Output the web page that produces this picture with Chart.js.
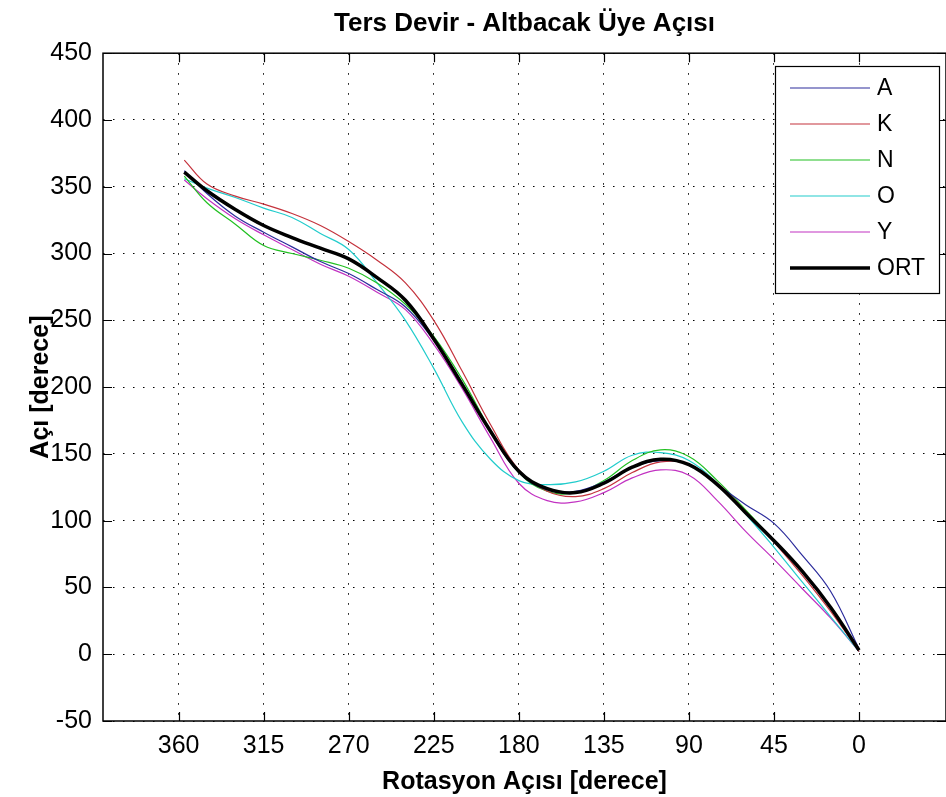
<!DOCTYPE html>
<html>
<head>
<meta charset="utf-8">
<script src="https://cdn.jsdelivr.net/npm/chart.js@4/dist/chart.umd.min.js"></script>
<style>
  html, body { margin: 0; padding: 0; background: #fff; }
  #wrap { width: 946px; height: 797px; }
</style>
</head>
<body>
<div id="wrap"><canvas id="grafik" width="946" height="797"></canvas></div>
<script>
// veriler
var rotasyon = [357, 345, 330, 315, 300, 285, 270, 255, 240, 225, 210, 195, 180, 165, 150, 135, 120, 105, 90, 75, 60, 45, 30, 15, 0];
var degerA   = [362, 345, 328, 316, 305, 294, 285, 273, 260, 235, 203, 166, 136, 123, 122, 129, 140, 145, 142, 127, 112, 98, 74, 47, 4];
var degerK   = [370, 352, 343, 337, 330, 321, 309, 295, 278, 250, 212, 172, 138, 122, 118, 124, 136, 144, 142, 128, 107, 84, 59, 32, 2];
var degerN   = [358, 338, 322, 306, 300, 295, 289, 278, 262, 238, 206, 168, 136, 122, 121, 130, 145, 153, 148, 130, 108, 85, 62, 35, 3];
var degerO   = [356, 349, 342, 334, 327, 315, 303, 278, 250, 214, 174, 146, 130, 127, 129, 137, 149, 151, 145, 128, 105, 80, 54, 28, 2];
var degerY   = [355, 341, 326, 314, 303, 292, 283, 271, 258, 232, 199, 162, 128, 115, 114, 121, 132, 138, 134, 115, 92, 71, 49, 27, 2];
var degerORT = [361, 347, 333, 321, 312, 304, 296, 282, 265, 236, 202, 167, 137, 124, 121, 128, 140, 146, 142, 127, 106, 85, 62, 35, 3];

var etiketler = ['A', 'K', 'N', 'O', 'Y', 'ORT'];
var renkler = ['#2c2c9c', '#c4323c', '#22c022', '#22cccc', '#c232c2', '#000000'];
var kalinlik = [1.2, 1.2, 1.2, 1.2, 1.2, 3.5];
var xTikler = [360, 315, 270, 225, 180, 135, 90, 45, 0];

var yaziTipi = "'Liberation Sans', Arial, sans-serif";

function noktalar(degerler) {
  return rotasyon.map(function(r, i) { return { x: r, y: degerler[i] }; });
}

var seriler = [degerA, degerK, degerN, degerO, degerY, degerORT];
var datasets = seriler.map(function(s, i) {
  return {
    label: etiketler[i],
    data: noktalar(s),
    borderColor: renkler[i],
    borderWidth: kalinlik[i],
    pointRadius: 0,
    tension: 0.4,
    fill: false,
    order: i === 5 ? -1 : 0
  };
});

// eksen cercevesi ve iceri dogru tik cizgileri (MATLAB gibi)
var cerceve = {
  id: 'cerceve',
  afterDatasetsDraw: function(chart) {
    var c = chart.ctx, a = chart.chartArea;
    var xs = chart.scales.x, ys = chart.scales.y;
    var L = 9;
    c.save();
    c.strokeStyle = '#000';
    c.lineWidth = 1.5;
    c.strokeRect(a.left, a.top, a.right - a.left, a.bottom - a.top);
    c.lineWidth = 1.2;
    c.beginPath();
    xs.ticks.forEach(function(t) {
      var px = Math.round(xs.getPixelForValue(t.value)) + 0.5;
      c.moveTo(px, a.bottom); c.lineTo(px, a.bottom - L);
      c.moveTo(px, a.top); c.lineTo(px, a.top + L);
    });
    ys.ticks.forEach(function(t) {
      var py = Math.round(ys.getPixelForValue(t.value)) + 0.5;
      c.moveTo(a.left, py); c.lineTo(a.left + L, py);
      c.moveTo(a.right, py); c.lineTo(a.right - L, py);
    });
    c.stroke();
    c.restore();
  }
};

// grafik icindeki lejant kutusu
var lejant = {
  id: 'lejant',
  afterDraw: function(chart) {
    var c = chart.ctx;
    var kutu = { sol: 775, ust: 66, sag: 939, alt: 293 };
    c.save();
    c.fillStyle = '#fff';
    c.fillRect(kutu.sol, kutu.ust, kutu.sag - kutu.sol, kutu.alt - kutu.ust);
    c.strokeStyle = '#000';
    c.lineWidth = 1.2;
    c.strokeRect(kutu.sol + 0.5, kutu.ust + 0.5, kutu.sag - kutu.sol, kutu.alt - kutu.ust);
    c.font = '23px ' + yaziTipi;
    c.textBaseline = 'middle';
    c.textAlign = 'left';
    chart.data.datasets.forEach(function(ds, i) {
      var y = 88 + i * 36;
      c.strokeStyle = ds.borderColor;
      c.lineWidth = ds.borderWidth;
      c.beginPath();
      c.moveTo(790, y); c.lineTo(870, y);
      c.stroke();
      c.fillStyle = '#000';
      c.fillText(ds.label, 877, y + 1);
    });
    c.restore();
  }
};

var ctx = document.getElementById('grafik').getContext('2d');
var grafik = new Chart(ctx, {
  type: 'line',
  data: { datasets: datasets },
  options: {
    responsive: false,
    animation: false,
    layout: { padding: { left: 0, right: 0, top: 0, bottom: 0 } },
    plugins: {
      legend: { display: false },
      tooltip: { enabled: false },
      title: {
        display: true,
        fullSize: false,
        text: 'Ters Devir - Altbacak Üye Açısı',
        color: '#000',
        font: { family: yaziTipi, size: 26, weight: 'bold' },
        padding: { top: 8, bottom: 14 }
      }
    },
    scales: {
      x: {
        type: 'linear',
        reverse: true,
        min: -46,
        max: 400,
        afterBuildTicks: function(scale) {
          scale.ticks = xTikler.map(function(v) { return { value: v }; });
        },
        afterFit: function(scale) { scale.height = 76; },
        grid: { color: '#000', lineWidth: 1, drawTicks: false },
        border: { display: false, dash: [1.5, 8.5] },
        ticks: {
          color: '#000',
          padding: 10,
          maxRotation: 0,
          font: { family: yaziTipi, size: 25 }
        },
        title: {
          display: true,
          text: 'Rotasyon Açısı [derece]',
          color: '#000',
          font: { family: yaziTipi, size: 25, weight: 'bold' },
          padding: { top: 6, bottom: 0 }
        }
      },
      y: {
        min: -50,
        max: 450,
        afterFit: function(scale) { scale.width = 103; },
        grid: { color: '#000', lineWidth: 1, drawTicks: false },
        border: { display: false, dash: [1.5, 8.5] },
        ticks: {
          stepSize: 50,
          color: '#000',
          padding: 11,
          font: { family: yaziTipi, size: 25 }
        },
        title: {
          display: true,
          text: 'Açı [derece]',
          color: '#000',
          font: { family: yaziTipi, size: 25, weight: 'bold' },
          padding: { top: 26, bottom: 0 }
        }
      }
    }
  },
  plugins: [cerceve, lejant]
});
</script>
</body>
</html>
